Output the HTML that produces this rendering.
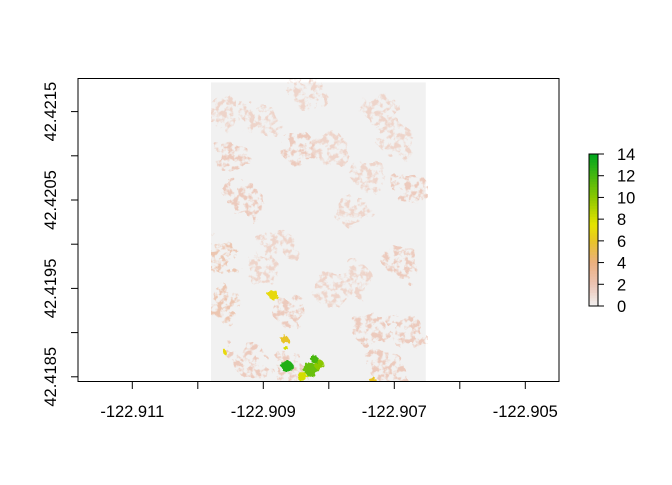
<!DOCTYPE html>
<html><head><meta charset="utf-8"><style>
body{margin:0;background:#fff}
svg text{font-family:"Liberation Sans",Arial,sans-serif;font-size:16.5px;fill:#000}
</style></head><body>
<svg id="chart" width="672" height="480" viewBox="0 0 672 480" xmlns="http://www.w3.org/2000/svg">
<defs>
<filter id="speckle" x="0" y="0" width="100%" height="100%">
<feTurbulence type="fractalNoise" baseFrequency="0.18" numOctaves="3" seed="7" result="n"/>
<feColorMatrix in="n" type="matrix" values="0 0 0 0 0  0 0 0 0 0  0 0 0 0 0  0 0 0 -5 2.8" result="m"/>
<feComposite in="SourceGraphic" in2="m" operator="in"/>
</filter>
<filter id="rough" x="-50%" y="-50%" width="200%" height="200%">
<feTurbulence type="fractalNoise" baseFrequency="0.25" numOctaves="2" seed="3" result="n"/>
<feDisplacementMap in="SourceGraphic" in2="n" scale="6"/>
</filter>
<filter id="roughBig" x="-20%" y="-20%" width="140%" height="140%">
<feTurbulence type="fractalNoise" baseFrequency="0.06" numOctaves="3" seed="11" result="n"/>
<feDisplacementMap in="SourceGraphic" in2="n" scale="30"/>
</filter>
<clipPath id="rclip"><rect x="211" y="79" width="217" height="302"/></clipPath>
</defs>
<g id="plot"></g>
</svg>
<script>
const xTicks=[-122.911,-122.910,-122.909,-122.908,-122.907,-122.906,-122.905];
const xLabels=["-122.911","","-122.909","","-122.907","","-122.905"];
const yTicks=[42.4185,42.4190,42.4195,42.4200,42.4205,42.4210,42.4215];
const yLabels=["42.4185","","42.4195","","42.4205","","42.4215"];
const legendTicks=[0,2,4,6,8,10,12,14];
const rasterExtent=[-122.90984,-122.90652,42.41842,42.42183];
const blobLon=[-122.90928,-122.90844,-122.90721,-122.90674,-122.90959,-122.90859,-122.90736,-122.90798,-122.90905,-122.90690,-122.90921,-122.90767,-122.90970,-122.90800,-122.90880,-122.90700,-122.90950,-122.90830,-122.90760,-122.90680,-122.90900,-122.90740,-122.90860,-122.90960,-122.90710];
const blobLat=[42.42050,42.42107,42.42152,42.42062,42.41932,42.41926,42.41903,42.41948,42.42141,42.41982,42.41869,42.42039,42.41990,42.42110,42.42000,42.42120,42.42100,42.42170,42.41960,42.41900,42.41970,42.42080,42.41860,42.42150,42.41860];
const blobVal=[2,2,1.5,2,2.5,2,2,1.5,1.5,2,2,1.5,2.5,1.5,1.5,1.5,2,1.5,1.5,2,1.5,1.5,2,1.5,2];
const spotLon=[-122.90885,-122.90867,-122.90864,-122.90828,-122.90815,-122.90840,-122.90733,-122.90959,-122.90822,-122.90866];
const spotLat=[42.41943,42.41892,42.41862,42.41858,42.41864,42.41850,42.41847,42.41878,42.41870,42.41883];
const spotVal=[7,6,13,11,10,8,6,7,12,8];
const spotR=[5,4,6,7,5,5,3,2,4,2];
const sx=v=>263.3+(v+122.909)*65500;
const sy=v=>376.8-(v-42.4185)*88400;
const ly=v=>306-v*(152/14);
const NS="http://www.w3.org/2000/svg";
const g=document.getElementById('plot');
function mk(t,a,p){const e=document.createElementNS(NS,t);for(const k in a)e.setAttribute(k,a[k]);(p||g).appendChild(e);return e;}
function col(v){const stops=[[0,[242,242,242]],[2,[236,196,180]],[4,[236,176,128]],[6,[232,196,40]],[7.5,[230,228,0]],[10,[140,200,0]],[14,[0,166,30]]];
for(let i=1;i<stops.length;i++){if(v<=stops[i][0]){const[a,ca]=stops[i-1],[b,cb]=stops[i];const t=(v-a)/(b-a);return 'rgb('+ca.map((c,j)=>Math.round(c+(cb[j]-c)*t)).join(',')+')';}}return 'rgb(0,166,30)';}
const rg=mk('g',{'clip-path':'url(#rclip)'});


const bg=mk('rect',{x:sx(rasterExtent[0]),y:sy(rasterExtent[3]),width:sx(rasterExtent[1])-sx(rasterExtent[0]),height:sy(rasterExtent[2])-sy(rasterExtent[3]),fill:'#f1f1f1'},rg);


const pg=mk('g',{filter:'url(#speckle)',opacity:0.85},rg);
const pg2=mk('g',{filter:'url(#roughBig)'},pg);
for(let i=0;i<blobLon.length;i++){const c=mk('circle',{cx:sx(blobLon[i]),cy:sy(blobLat[i]),r:17,fill:col(blobVal[i])},pg2);

}
const hg=mk('g',{filter:'url(#rough)'},rg);
for(let i=0;i<spotLon.length;i++){const c=mk('circle',{cx:sx(spotLon[i]),cy:sy(spotLat[i]),r:spotR[i],fill:col(spotVal[i])},hg);

}
const box=mk('rect',{x:78,y:78.5,width:481,height:303,fill:'none',stroke:'#000','stroke-width':1});


xTicks.forEach((v,i)=>{const x=sx(v);const t=mk('line',{x1:x,x2:x,y1:381.5,y2:389,stroke:'#000'});


if(xLabels[i]){const l=mk('text',{x:x,y:417,'text-anchor':'middle'});l.textContent=xLabels[i];

}});
yTicks.forEach((v,i)=>{const y=sy(v);const t=mk('line',{x1:71,x2:78,y1:y,y2:y,stroke:'#000'});


if(yLabels[i]){const l=mk('text',{x:0,y:0,'text-anchor':'middle',transform:'translate(56,'+y+') rotate(-90)'});l.textContent=yLabels[i];

}});
const lg=mk('g',{});


for(let v=0;v<14;v+=0.25){mk('rect',{x:589,y:ly(v+0.25),width:9,height:(152/14)*0.25+0.5,fill:col(v+0.125)},lg);}
mk('rect',{x:589,y:154,width:9,height:152,fill:'none',stroke:'#000'},lg);
legendTicks.forEach(v=>{mk('line',{x1:598,x2:604,y1:ly(v),y2:ly(v),stroke:'#000'},lg);
const l=mk('text',{x:617,y:ly(v)+6},lg);l.textContent=v;

});
</script>
</body></html>
